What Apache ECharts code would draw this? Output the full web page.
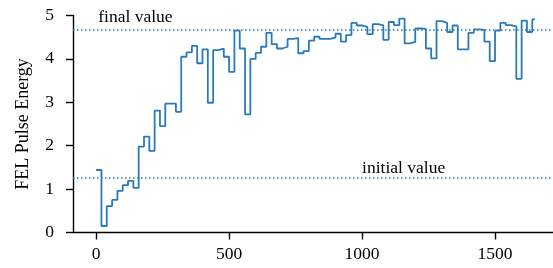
<!DOCTYPE html>
<html>
<head>
<meta charset="utf-8">
<script src="https://cdn.jsdelivr.net/npm/echarts@6/dist/echarts.min.js"></script>
<style>
html,body{margin:0;padding:0;background:#fff;}
#c{width:553px;height:268px;}
</style>
</head>
<body>
<div id="c"></div>
<script>
// step start positions (iteration) and FEL pulse energy values
var steps = [0,20,40,60,80,100,120,140,160,180,200,220,240,260,280,300,320,340,360,380,400,420,440,460,480,500,520,540,560,580,600,620,640,660,680,700,720,740,760,780,800,820,840,860,880,900,920,940,960,980,1000,1020,1040,1060,1080,1100,1120,1140,1160,1180,1200,1220,1240,1260,1280,1300,1320,1340,1360,1380,1400,1420,1440,1460,1480,1500,1520,1540,1560,1580,1600,1620,1640,1650];
var energy = [1.44,0.15,0.61,0.75,0.96,1.09,1.19,1.03,1.98,2.21,1.88,2.81,2.45,2.97,2.97,2.78,4.05,4.15,4.30,3.90,4.22,2.99,4.20,4.24,4.05,3.70,4.65,4.24,2.72,4.00,4.14,4.28,4.60,4.34,4.24,4.28,4.46,4.48,4.13,4.18,4.42,4.51,4.46,4.46,4.49,4.58,4.40,4.55,4.83,4.77,4.74,4.57,4.80,4.77,4.44,4.85,4.78,4.93,4.36,4.39,4.70,4.69,4.24,4.01,4.87,4.83,4.62,4.77,4.22,4.22,4.60,4.68,4.67,4.40,3.95,4.65,4.83,4.78,4.75,3.54,4.88,4.62,4.91,4.91];
var refNames = ['final value','initial value'];
var refValues = [4.68, 1.27];
var refLabelX = [8, 1000];
var refLabelY = [4.84, 1.36];
var xTicks = [0,500,1000,1500];
var yTicks = [0,1,2,3,4,5];

var FONT = '"Liberation Serif","DejaVu Serif",serif';
var BLUE = '#2a7ab8';
var chart = echarts.init(document.getElementById('c'), null, {renderer:'canvas'});
var pts = steps.map(function(s,i){return [s, energy[i]];});
chart.setOption({
  animation:false,
  grid:{left:73, right:0, top:15.5, bottom:35.5, containLabel:false},
  xAxis:{
    type:'value', min:-87, max:1718,
    axisLine:{show:true, onZero:false, lineStyle:{color:'#000', width:1.4}},
    axisTick:{show:true, length:7, lineStyle:{color:'#000', width:1.4}, customValues:xTicks},
    axisLabel:{color:'#000', fontFamily:FONT, fontSize:17.5, margin:13, customValues:xTicks,
      formatter:function(v){return String(v);}},
    splitLine:{show:false}
  },
  yAxis:{
    type:'value', min:0, max:5, interval:1,
    name:'FEL Pulse Energy', nameLocation:'middle', nameGap:41, nameRotate:90,
    nameTextStyle:{color:'#000', fontFamily:FONT, fontSize:18},
    axisLine:{show:true, onZero:false, lineStyle:{color:'#000', width:1.4}},
    axisTick:{show:true, length:7, lineStyle:{color:'#000', width:1.4}, customValues:yTicks},
    axisLabel:{color:'#000', fontFamily:FONT, fontSize:17.5, margin:19, customValues:yTicks},
    splitLine:{show:false}
  },
  series:[{
    type:'line', step:'end', data:pts, showSymbol:false, symbol:'none',
    lineStyle:{color:BLUE, width:1.8}, z:3,
    markLine:{
      silent:true, symbol:['none','none'], label:{show:false},
      lineStyle:{color:BLUE, type:[1.5,2.5], width:1.5},
      data: refValues.map(function(v){return {yAxis:v};})
    }
  }]
});
var g = refNames.map(function(n,i){
  var p = chart.convertToPixel({gridIndex:0}, [refLabelX[i], refLabelY[i]]);
  return {type:'text', x:p[0], y:p[1]+4, style:{text:n, fill:'#000', font:'17.5px '+FONT, textAlign:'left', textVerticalAlign:'bottom'}};
});
chart.setOption({graphic:g});
</script>
</body>
</html>
